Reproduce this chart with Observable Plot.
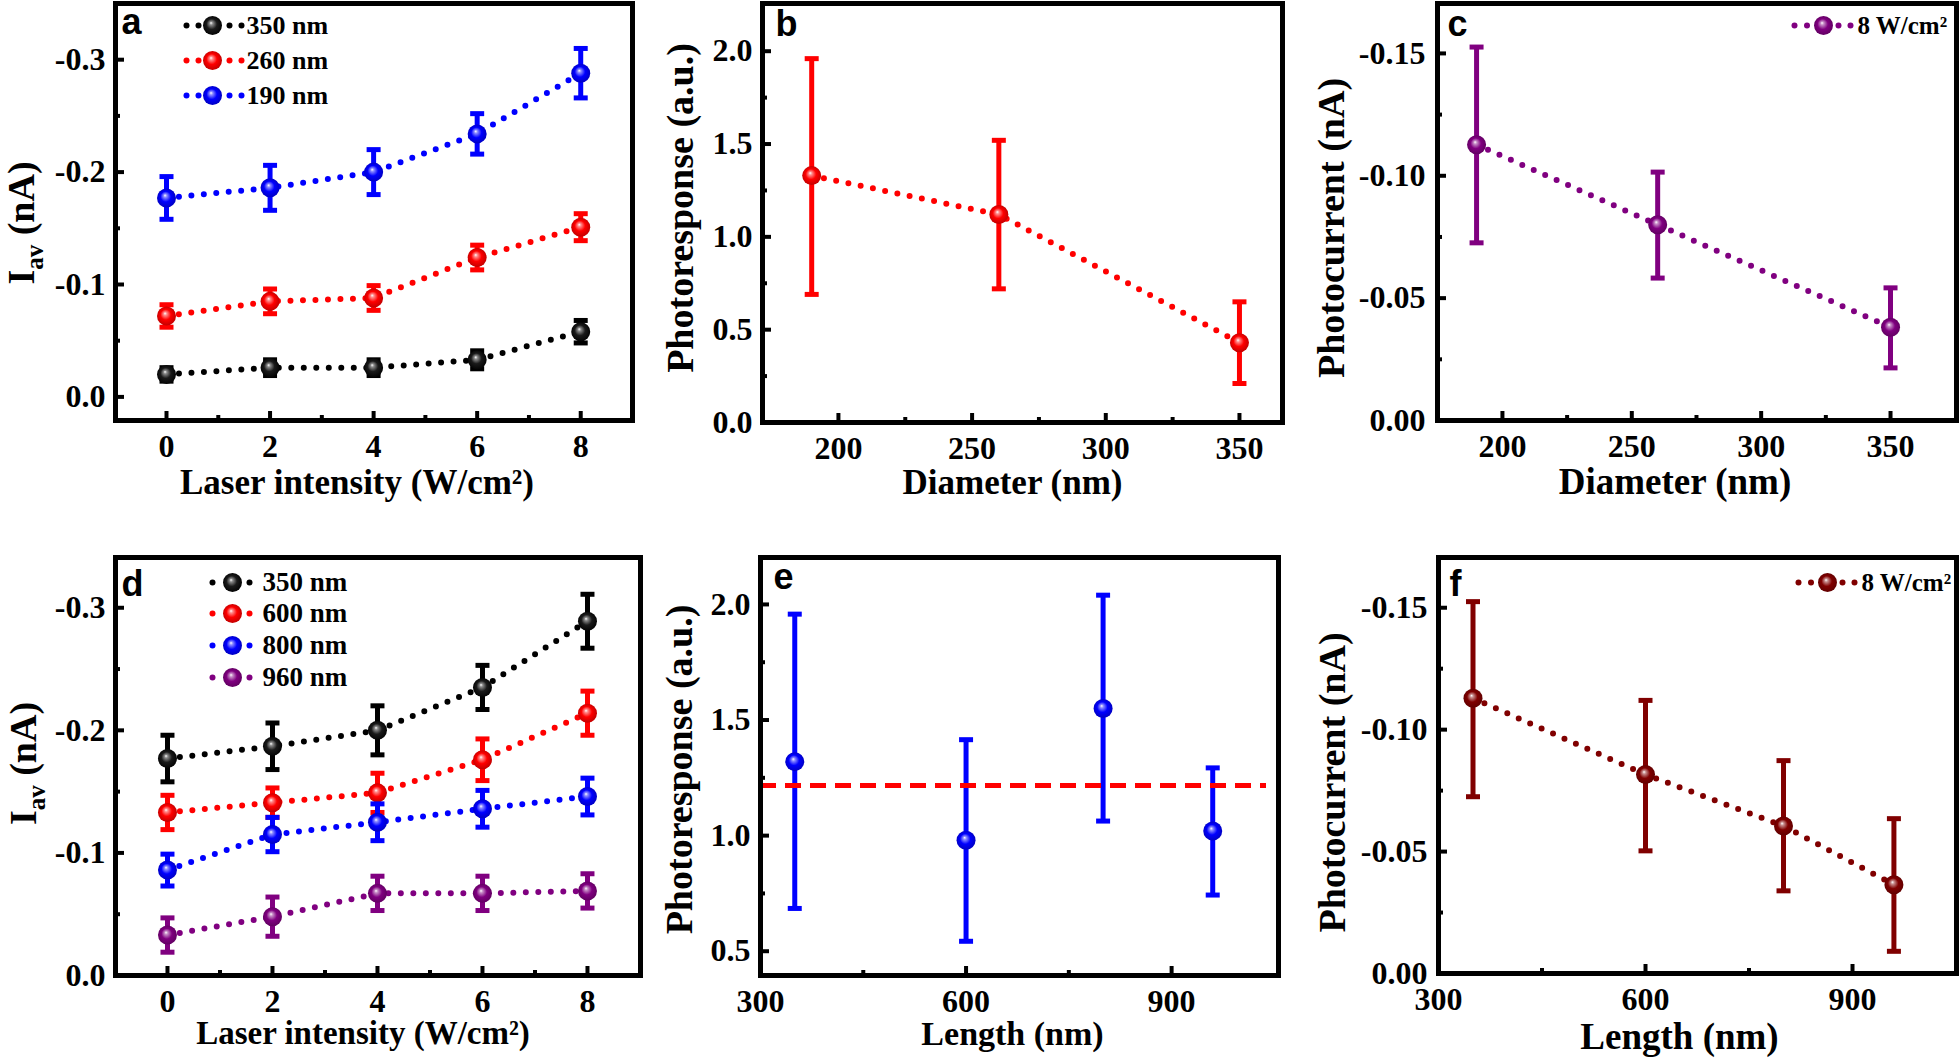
<!DOCTYPE html>
<html>
<head>
<meta charset="utf-8">
<script src="https://cdn.jsdelivr.net/npm/d3@7"></script>
<script src="https://cdn.jsdelivr.net/npm/@observablehq/plot@0.6"></script>
<style>
html, body { margin: 0; padding: 0; background: #fff; }
#fig { position: relative; width: 1959px; height: 1060px; overflow: hidden; background: #fff; }
</style>
</head>
<body>
<div id="fig"></div>
<script>
// ================= DATA =================
// Panel a: I_av vs laser intensity for three diameters
const aIntensity = [0, 2, 4, 6, 8];
const aLegend = ["350 nm", "260 nm", "190 nm"];
const a350 = [-0.020, -0.026, -0.026, -0.033, -0.058];
const a350Err = [0.006, 0.007, 0.007, 0.008, 0.010];
const a260 = [-0.072, -0.085, -0.088, -0.124, -0.151];
const a260Err = [0.010, 0.011, 0.011, 0.011, 0.012];
const a190 = [-0.177, -0.186, -0.200, -0.234, -0.288];
const a190Err = [0.019, 0.020, 0.020, 0.018, 0.022];

// Panel b: photoresponse vs diameter
const bDiameter = [190, 260, 350];
const bResp = [1.33, 1.12, 0.43];
const bLow = [0.69, 0.72, 0.21];
const bHigh = [1.96, 1.52, 0.65];

// Panel c: photocurrent vs diameter (8 W/cm2)
const cLegend = "8 W/cm²";
const cDiameter = [190, 260, 350];
const cCurrent = [-0.1127, -0.0800, -0.0381];
const cLow = [-0.0726, -0.0582, -0.0215];
const cHigh = [-0.1526, -0.1015, -0.0542];

// Panel d: I_av vs laser intensity for four lengths
const dIntensity = [0, 2, 4, 6, 8];
const dLegend = ["350 nm", "600 nm", "800 nm", "960 nm"];
const d350 = [-0.177, -0.187, -0.200, -0.235, -0.289];
const d350Err = [0.019, 0.019, 0.020, 0.018, 0.022];
const d600 = [-0.133, -0.141, -0.149, -0.176, -0.214];
const d600Err = [0.014, 0.012, 0.016, 0.017, 0.018];
const d800 = [-0.086, -0.115, -0.125, -0.136, -0.146];
const d800Err = [0.013, 0.014, 0.015, 0.015, 0.015];
const d960 = [-0.033, -0.048, -0.067, -0.067, -0.069];
const d960Err = [0.014, 0.016, 0.014, 0.014, 0.014];

// Panel e: photoresponse vs length
const eLength = [350, 600, 800, 960];
const eResp = [1.32, 0.98, 1.55, 1.02];
const eLow = [0.685, 0.543, 1.063, 0.743];
const eHigh = [1.958, 1.415, 2.040, 1.293];
const eMean = [1.217];

// Panel f: photocurrent vs length (8 W/cm2)
const fLegend = "8 W/cm²";
const fLength = [350, 600, 800, 960];
const fCurrent = [-0.1129, -0.0816, -0.0605, -0.0364];
const fLow = [-0.0725, -0.0503, -0.0339, -0.0091];
const fHigh = [-0.1525, -0.1120, -0.0873, -0.0635];

// ================= STYLE =================
const COLORS = {black: "#000000", red: "#ff0000", blue: "#0000ff", purple: "#800080", maroon: "#800000"};
const fig = document.getElementById("fig");

const defs = Object.entries(COLORS).map(([k, c]) => {
  const light = k === "black" ? "#8a8a8a" : d3.interpolateRgb(c, "#ffffff")(0.55);
  const mid = k === "black" ? "#1a1a1a" : c;
  const dark = d3.color(c).darker(0.9).formatHex();
  return `<radialGradient id="g-${k}" cx="0.5" cy="0.5" r="0.55" fx="0.42" fy="0.36">
    <stop offset="0" stop-color="#ffffff"/>
    <stop offset="0.16" stop-color="${light}"/>
    <stop offset="0.5" stop-color="${mid}"/>
    <stop offset="1" stop-color="${dark}"/>
  </radialGradient>`;
}).join("");
fig.insertAdjacentHTML("beforeend", `<svg width="0" height="0" style="position:absolute"><defs>${defs}</defs></svg>`);

const capSymbol = {
  draw(ctx, size) { const w = Math.sqrt(size / Math.PI); ctx.moveTo(-w, 0); ctx.lineTo(w, 0); }
};

function seriesMarks(xs, ys, lows, highs, color, withLine = true) {
  const rows = xs.map((x, i) => ({x, y: ys[i], lo: lows[i], hi: highs[i]}));
  const c = COLORS[color];
  return [
    withLine ? Plot.line(rows, {x: "x", y: "y", stroke: c, strokeWidth: 6, strokeDasharray: "0,12.5", strokeLinecap: "round"}) : null,
    Plot.ruleX(rows, {x: "x", y1: "lo", y2: "hi", stroke: c, strokeWidth: 5}),
    Plot.dot(rows, {x: "x", y: "lo", symbol: capSymbol, r: 7, stroke: c, strokeWidth: 5, fill: "none"}),
    Plot.dot(rows, {x: "x", y: "hi", symbol: capSymbol, r: 7, stroke: c, strokeWidth: 5, fill: "none"}),
    Plot.dot(rows, {x: "x", y: "y", r: 9.5, fill: `url(#g-${color})`})
  ].filter(Boolean);
}
function errSeries(xs, ys, errs, color) {
  return seriesMarks(xs, ys, ys.map((v, i) => v + errs[i]), ys.map((v, i) => v - errs[i]), color);
}

function legendRow({anchor, x, y, color, label, dots, textDx, fontSize}) {
  const out = dots.map(o => Plot.dot([0], {frameAnchor: anchor, dx: x + o, dy: y, r: 3, fill: COLORS[color]}));
  out.push(Plot.dot([0], {frameAnchor: anchor, dx: x, dy: y, r: 9.5, fill: `url(#g-${color})`}));
  out.push(Plot.text([label], {text: d => d, frameAnchor: anchor, dx: x + textDx, dy: y, textAnchor: "start", lineAnchor: "middle", fontSize}));
  return out;
}

function panel(o) {
  const [L, T, R, B] = o.frame;
  const mL = 130, mR = 12, mT = 6, mB = 95;
  const width = R - L + mL + mR, height = B - T + mT + mB;
  const marks = [
    Plot.axisX(o.xMinor, {tickSize: -5, tickFormat: () => null, label: null, strokeWidth: 4}),
    Plot.axisY(o.yMinor, {tickSize: -5, tickFormat: () => null, label: null, strokeWidth: 4}),
    Plot.axisX(o.xTicks, {tickSize: -9, tickPadding: 35, tickFormat: o.xFmt, label: null, strokeWidth: 4, fontSize: 32, lineAnchor: "middle"}),
    Plot.axisY(o.yTicks, {tickSize: -9, tickPadding: o.yPad ?? 19, tickFormat: o.yFmt, label: null, strokeWidth: 4, fontSize: 32}),
    ...o.marks,
    Plot.frame({stroke: "#000", strokeWidth: 5}),
    Plot.text([o.xLabel], {text: d => d, frameAnchor: "bottom", dx: o.xl[0], dy: o.xl[1], fontSize: o.xl[2], textAnchor: "middle", lineAnchor: "middle"}),
    Plot.text([o.yLabel], {text: d => d, frameAnchor: "left", dx: o.yl[0], dy: o.yl[1], rotate: -90, fontSize: o.yl[2], textAnchor: "middle", lineAnchor: "middle"}),
    Plot.text([o.letter], {text: d => d, frameAnchor: "top-left", dx: o.lt[0], dy: o.lt[1], textAnchor: "start", lineAnchor: "top", fontSize: 36, fontFamily: "'Liberation Sans', Arial, sans-serif", fontWeight: "bold"}),
    ...(o.legend || [])
  ];
  const svg = Plot.plot({
    width, height, marginLeft: mL, marginRight: mR, marginTop: mT, marginBottom: mB,
    x: {domain: o.xDomain}, y: {domain: o.yDomain}, marks
  });
  svg.style.cssText = `position:absolute;left:${L - mL}px;top:${T - mT}px;overflow:visible;max-width:none;background:transparent;font-family:'Liberation Serif','Times New Roman',serif;font-weight:bold;font-size:32px;`;
  svg.querySelectorAll("text").forEach(t => {
    if (t.textContent === "Iav (nA)") {
      t.textContent = "";
      const ns = "http://www.w3.org/2000/svg";
      const s1 = document.createElementNS(ns, "tspan"); s1.textContent = "I";
      const s2 = document.createElementNS(ns, "tspan"); s2.textContent = "av";
      s2.setAttribute("dy", "9"); s2.setAttribute("font-size", "25");
      const s3 = document.createElementNS(ns, "tspan"); s3.textContent = " (nA)"; s3.setAttribute("dy", "-9");
      t.append(s1, s2, s3);
    }
  });
  fig.appendChild(svg);
}

const f1 = d => d.toFixed(1), f2 = d => d.toFixed(2), f0 = d => String(d);

// ---- a ----
panel({
  frame: [115, 3, 632, 420], xDomain: [-0.985, 9.0], yDomain: [0.021, -0.35],
  xTicks: [0, 2, 4, 6, 8], xMinor: [1, 3, 5, 7], yTicks: [0, -0.1, -0.2, -0.3], yMinor: [-0.05, -0.15, -0.25],
  xFmt: f0, yFmt: f1,
  xLabel: "Laser intensity (W/cm²)", xl: [-17, 62, 35],
  yLabel: "Iav (nA)", yl: [-94, 11, 38],
  letter: "a", lt: [6, 5],
  marks: [
    ...errSeries(aIntensity, a350, a350Err, "black"),
    ...errSeries(aIntensity, a260, a260Err, "red"),
    ...errSeries(aIntensity, a190, a190Err, "blue")
  ],
  legend: ["black", "red", "blue"].flatMap((c, i) => legendRow({anchor: "top-left", x: 97, y: [22, 57, 92][i], color: c, label: aLegend[i], dots: [-26, -14, 17, 29], textDx: 34, fontSize: 26}))
});

// ---- b ----
panel({
  frame: [762, 3, 1282, 422], xDomain: [171.6, 366.1], yDomain: [0, 2.257],
  xTicks: [200, 250, 300, 350], xMinor: [225, 275, 325], yTicks: [0, 0.5, 1, 1.5, 2], yMinor: [0.25, 0.75, 1.25, 1.75],
  xFmt: f0, yFmt: f1,
  xLabel: "Diameter (nm)", xl: [-10, 60, 35],
  yLabel: "Photoresponse (a.u.)", yl: [-82, -5, 38],
  letter: "b", lt: [13, 7],
  marks: seriesMarks(bDiameter, bResp, bLow, bHigh, "red")
});

// ---- c ----
panel({
  frame: [1437, 3, 1956, 420], xDomain: [174.9, 375.5], yDomain: [0, -0.1704],
  xTicks: [200, 250, 300, 350], xMinor: [225, 275, 325], yTicks: [0, -0.05, -0.1, -0.15], yMinor: [-0.025, -0.075, -0.125],
  xFmt: f0, yFmt: f2, yPad: 21,
  xLabel: "Diameter (nm)", xl: [-22, 62, 37],
  yLabel: "Photocurrent (nA)", yl: [-106, 16, 38],
  letter: "c", lt: [10, 7],
  marks: seriesMarks(cDiameter, cCurrent, cLow, cHigh, "purple"),
  legend: legendRow({anchor: "top-right", x: -133, y: 22, color: "purple", label: cLegend, dots: [-29, -16.5, 15, 27], textDx: 34, fontSize: 25})
});

// ---- d ----
panel({
  frame: [115, 557, 640, 975], xDomain: [-0.99, 9.01], yDomain: [0, -0.341],
  xTicks: [0, 2, 4, 6, 8], xMinor: [1, 3, 5, 7], yTicks: [0, -0.1, -0.2, -0.3], yMinor: [-0.05, -0.15, -0.25],
  xFmt: f0, yFmt: f1,
  xLabel: "Laser intensity (W/cm²)", xl: [-15, 58, 33],
  yLabel: "Iav (nA)", yl: [-92, -3, 38],
  letter: "d", lt: [6, 13],
  marks: [
    ...errSeries(dIntensity, d350, d350Err, "black"),
    ...errSeries(dIntensity, d600, d600Err, "red"),
    ...errSeries(dIntensity, d800, d800Err, "blue"),
    ...errSeries(dIntensity, d960, d960Err, "purple")
  ],
  legend: ["black", "red", "blue", "purple"].flatMap((c, i) => legendRow({anchor: "top-left", x: 117, y: [25, 56, 88, 120][i], color: c, label: dLegend[i], dots: [-20, 17], textDx: 30, fontSize: 27}))
});

// ---- e ----
panel({
  frame: [760, 557, 1278, 975], xDomain: [300, 1056], yDomain: [0.395, 2.203],
  xTicks: [300, 600, 900], xMinor: [450, 750], yTicks: [0.5, 1, 1.5, 2], yMinor: [0.75, 1.25, 1.75],
  xFmt: f0, yFmt: f1,
  xLabel: "Length (nm)", xl: [-7, 59, 34],
  yLabel: "Photoresponse (a.u.)", yl: [-81, 3, 38],
  letter: "e", lt: [13, 6],
  marks: [
    ...seriesMarks(eLength, eResp, eLow, eHigh, "blue", false),
    Plot.ruleY(eMean, {y: d => d, stroke: COLORS.red, strokeWidth: 5, strokeDasharray: "16,9", insetRight: 12})
  ]
});

// ---- f ----
panel({
  frame: [1438, 557, 1956, 973], xDomain: [300, 1050.7], yDomain: [0, -0.1706],
  xTicks: [300, 600, 900], xMinor: [450, 750], yTicks: [0, -0.05, -0.1, -0.15], yMinor: [-0.025, -0.075, -0.125],
  xFmt: f0, yFmt: f2, yPad: 20,
  xLabel: "Length (nm)", xl: [-18, 64, 37],
  yLabel: "Photocurrent (nA)", yl: [-106, 17, 38],
  letter: "f", lt: [11, 13],
  marks: seriesMarks(fLength, fCurrent, fLow, fHigh, "maroon"),
  legend: legendRow({anchor: "top-right", x: -129, y: 25, color: "maroon", label: fLegend, dots: [-29, -16.5, 15, 27], textDx: 34, fontSize: 25})
});
</script>
</body>
</html>
